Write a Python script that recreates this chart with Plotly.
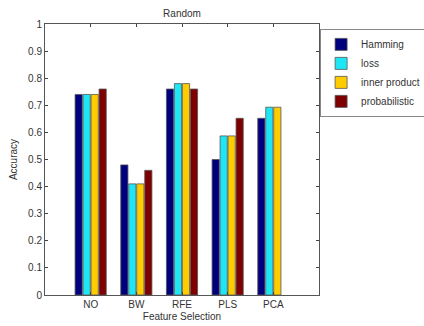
import plotly.graph_objects as go

categories = ["NO", "BW", "RFE", "PLS", "PCA"]
hamming = [0.74, 0.48, 0.76, 0.50, 0.652]
loss = [0.74, 0.41, 0.78, 0.587, 0.693]
inner_product = [0.74, 0.41, 0.78, 0.587, 0.693]
probabilistic = [0.76, 0.46, 0.76, 0.652, None]
series_names = ["Hamming", "loss", "inner product", "probabilistic"]
colors = ["#00007F", "#1EE6F5", "#FFCC00", "#7F0000"]
yticks = [0, 0.1, 0.2, 0.3, 0.4, 0.5, 0.6, 0.7, 0.8, 0.9, 1]

xpos = list(range(1, len(categories) + 1))
fig = go.Figure()
for name, vals, col in zip(series_names, [hamming, loss, inner_product, probabilistic], colors):
    fig.add_trace(go.Bar(x=xpos, y=vals, name=name, marker=dict(color=col, line=dict(color="#555555", width=0.8))))

font = dict(family="Liberation Sans, Arial, sans-serif", size=10, color="#333333")
fig.update_layout(
    width=424, height=326,
    margin=dict(l=45, r=105, t=24, b=31, autoexpand=False),
    paper_bgcolor="white", plot_bgcolor="white",
    font=font,
    barmode="group", bargap=0.3, bargroupgap=0.1,
    title=dict(text="Random", x=(45 + 137) / 424, xanchor="center", y=1 - 13 / 326, yanchor="middle", font=dict(size=10, color="#333333")),
    xaxis=dict(range=[0, 6], tickvals=xpos, ticktext=categories, ticks="inside", ticklen=3,
               showline=True, linecolor="#555555", mirror="ticks", showgrid=False, zeroline=False,
               title=dict(text="Feature Selection", standoff=3, font=dict(size=10, color="#333333"))),
    yaxis=dict(range=[0, 1], tickvals=yticks, ticktext=[f"{v:g}" for v in yticks], ticks="inside", ticklen=3,
               showline=True, linecolor="#555555", mirror="ticks", showgrid=False, zeroline=False,
               title=dict(text="Accuracy", standoff=8, font=dict(size=10, color="#333333"))),
    legend=dict(x=1.004, y=0.982, xanchor="left", yanchor="top", bordercolor="#888888", borderwidth=1,
                bgcolor="white", font=dict(size=10, color="#333333"), itemwidth=30, tracegroupgap=0),
    showlegend=True,
)
fig.write_html("out.html", config={"displayModeBar": False}, post_script="document.body.style.margin='0';")
